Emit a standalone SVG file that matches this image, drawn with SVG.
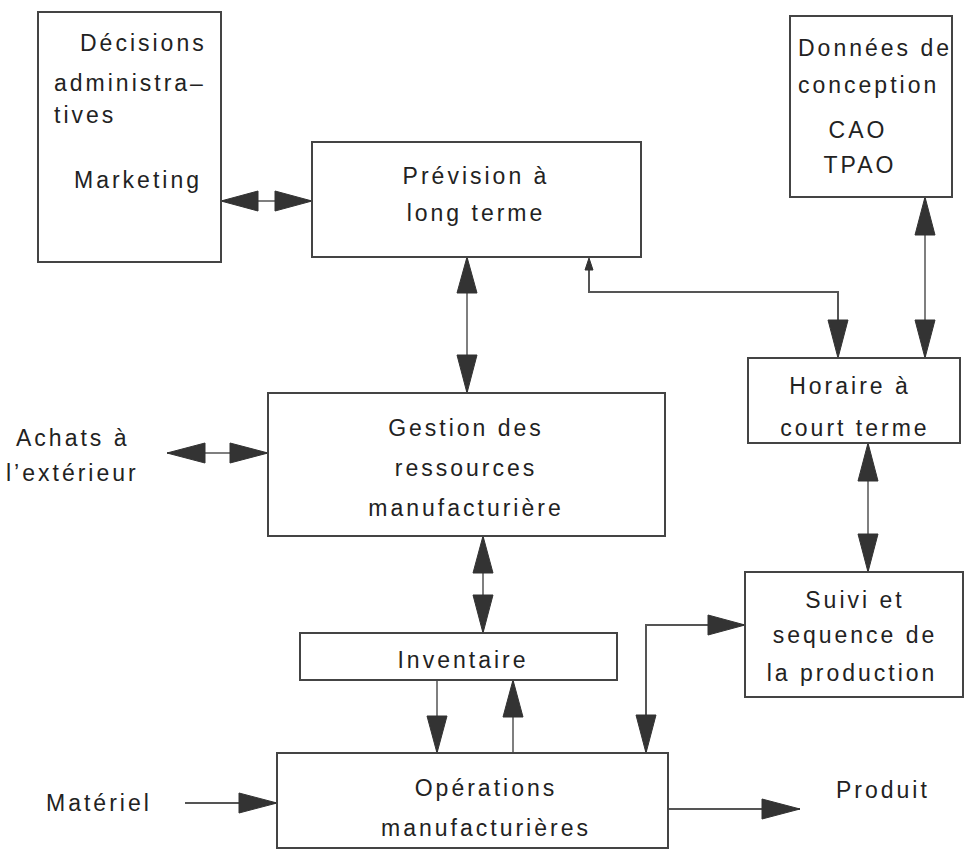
<svg xmlns="http://www.w3.org/2000/svg" width="973" height="861" viewBox="0 0 973 861">
<defs>
<style>
.box{fill:#fff;stroke:#444;stroke-width:2}
.ln{fill:none;stroke:#555;stroke-width:2}
.thin{fill:none;stroke:#555;stroke-width:1.5}
.ah{fill:#333;stroke:#333;stroke-width:1}
text{font-family:"Liberation Sans",Arial,sans-serif;font-size:23px;fill:#222;letter-spacing:3px}
.c{text-anchor:middle}
</style>
</defs>
<rect width="973" height="861" fill="#fff"/>
<g id="connectors">
<line class="thin" x1="221" y1="201" x2="312" y2="201"/>
<path class="ah" d="M221,201 L258,191 L258,211 Z"/>
<path class="ah" d="M312,201 L275,191 L275,211 Z"/>
<line class="thin" x1="467" y1="257" x2="467" y2="393"/>
<path class="ah" d="M467,257 L457,293 L477,293 Z"/>
<path class="ah" d="M467,393 L457,355 L477,355 Z"/>
<polyline class="ln" points="589,262 589,292 838,292 838,330"/>
<path class="ah" d="M589,258 L585,270 L593,270 Z"/>
<path class="ah" d="M838,358 L828,320 L848,320 Z"/>
<line class="thin" x1="925" y1="197" x2="925" y2="358"/>
<path class="ah" d="M925,197 L915,235 L935,235 Z"/>
<path class="ah" d="M925,358 L915,320 L935,320 Z"/>
<line class="thin" x1="167" y1="453" x2="268" y2="453"/>
<path class="ah" d="M167,453 L205,443 L205,463 Z"/>
<path class="ah" d="M268,453 L230,443 L230,463 Z"/>
<line class="thin" x1="868" y1="443" x2="868" y2="572"/>
<path class="ah" d="M868,443 L858,481 L878,481 Z"/>
<path class="ah" d="M868,572 L858,534 L878,534 Z"/>
<line class="thin" x1="483" y1="536" x2="483" y2="633"/>
<path class="ah" d="M483,536 L473,573 L493,573 Z"/>
<path class="ah" d="M483,633 L473,595 L493,595 Z"/>
<line class="thin" x1="437" y1="680" x2="437" y2="753"/>
<path class="ah" d="M437,753 L427,716 L447,716 Z"/>
<line class="thin" x1="513" y1="680" x2="513" y2="753"/>
<path class="ah" d="M513,680 L503,717 L523,717 Z"/>
<polyline class="ln" points="646,753 646,625 745,625"/>
<path class="ah" d="M745,625 L708,615 L708,635 Z"/>
<path class="ah" d="M646,753 L636,715 L656,715 Z"/>
<line class="ln" x1="185" y1="803" x2="277" y2="803"/>
<path class="ah" d="M277,803 L239,793 L239,813 Z"/>
<line class="ln" x1="668" y1="809" x2="800" y2="809"/>
<path class="ah" d="M800,809 L762,799 L762,819 Z"/>
</g>
<g id="decisions">
<rect class="box" x="38" y="12" width="183" height="250"/>
<text x="80" y="51">Décisions</text>
<text x="54" y="91">administra–</text>
<text x="54" y="123">tives</text>
<text x="74" y="188">Marketing</text>
</g>
<g id="prevision">
<rect class="box" x="312" y="142" width="329" height="115"/>
<text class="c" x="476" y="184">Prévision à</text>
<text class="c" x="476" y="221">long terme</text>
</g>
<g id="donnees">
<rect class="box" x="790" y="16" width="162" height="181"/>
<text x="798" y="56">Données de</text>
<text x="798" y="93">conception</text>
<text class="c" x="858" y="138">CAO</text>
<text class="c" x="860" y="173">TPAO</text>
</g>
<g id="horaire">
<rect class="box" x="748" y="358" width="212" height="85"/>
<text class="c" x="850" y="394">Horaire à</text>
<text class="c" x="855" y="436">court terme</text>
</g>
<g id="achats">
<text x="16" y="446">Achats à</text>
<text x="6" y="481">l’extérieur</text>
</g>
<g id="gestion">
<rect class="box" x="268" y="393" width="397" height="143"/>
<text class="c" x="466" y="436">Gestion des</text>
<text class="c" x="466" y="476">ressources</text>
<text class="c" x="466" y="516">manufacturière</text>
</g>
<g id="inventaire">
<rect class="box" x="300" y="633" width="317" height="47"/>
<text class="c" x="463" y="668">Inventaire</text>
</g>
<g id="suivi">
<rect class="box" x="745" y="572" width="218" height="125"/>
<text class="c" x="855" y="608">Suivi et</text>
<text class="c" x="855" y="643">sequence de</text>
<text class="c" x="852" y="681">la production</text>
</g>
<g id="operations">
<rect class="box" x="277" y="753" width="391" height="95"/>
<text class="c" x="486" y="796">Opérations</text>
<text class="c" x="486" y="836">manufacturières</text>
</g>
<g id="materiel">
<text x="46" y="811">Matériel</text>
</g>
<g id="produit">
<text x="836" y="798">Produit</text>
</g>
</svg>
